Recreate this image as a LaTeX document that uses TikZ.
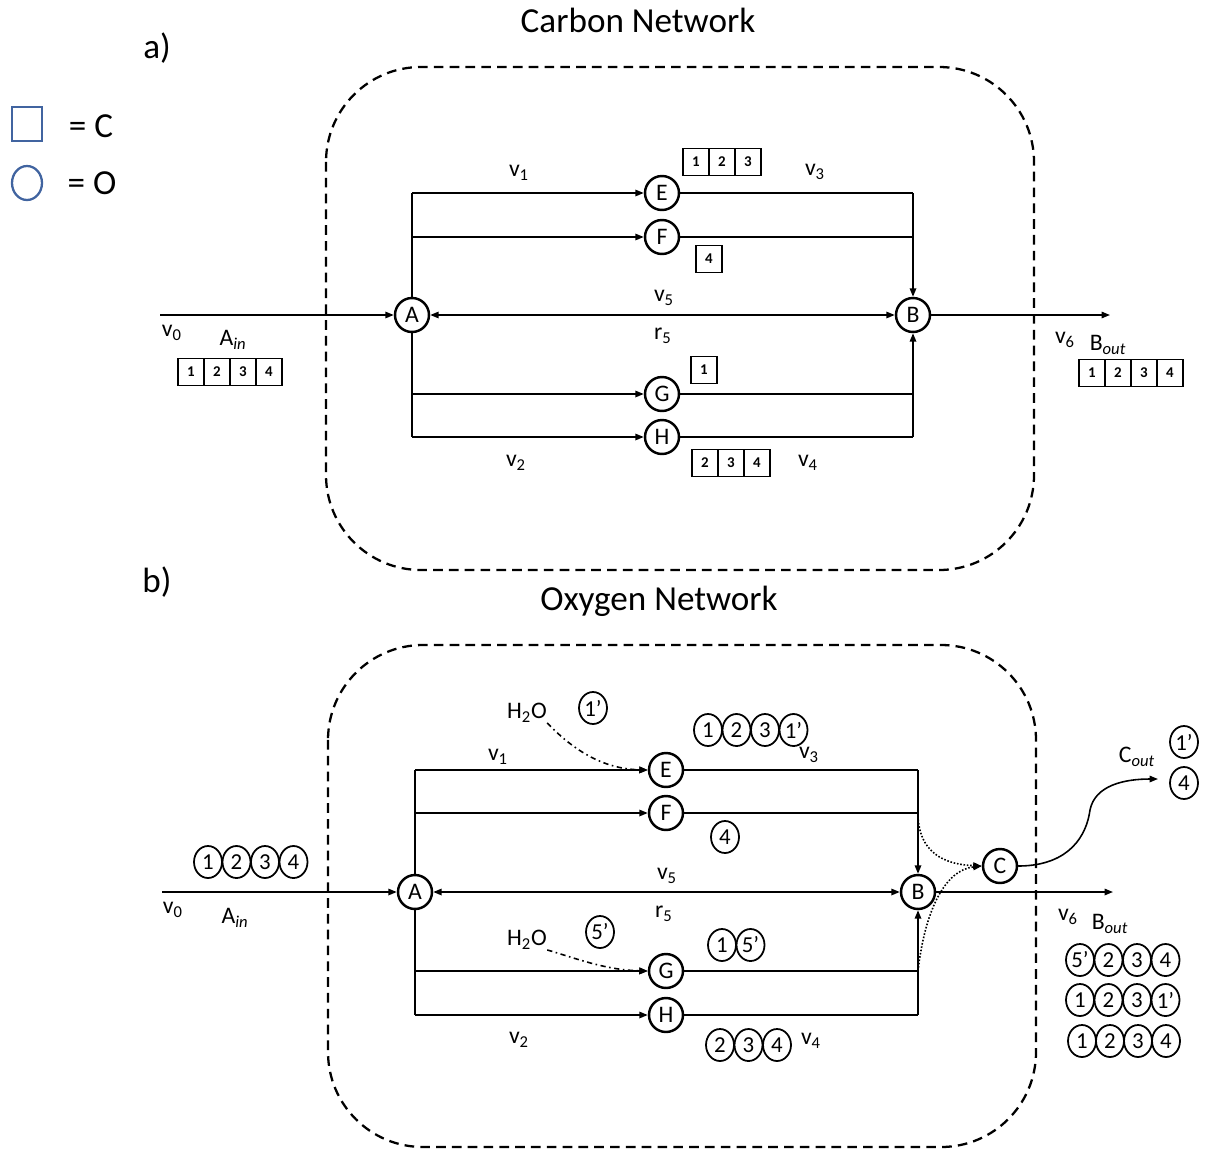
\documentclass[tikz,border=0pt]{standalone}
\usepackage{fontspec}
\setmainfont{Carlito}
\usetikzlibrary{positioning,shapes.geometric,arrows.meta}
\definecolor{legblue}{RGB}{65,100,160}

\begin{document}
\begin{tikzpicture}[x=0.02cm,y=-0.02cm,
  >={Triangle[length=1.7mm,width=1.3mm]},
  met/.style={draw,circle,line width=1.4pt,minimum size=0.68cm,inner sep=0pt,font=\fontsize{13.5}{15}\selectfont},
  cbox/.style={draw,line width=1pt,minimum width=0.52cm,minimum height=0.54cm,inner sep=0pt,font=\fontsize{8.5}{9}\selectfont\bfseries},
  oatom/.style={draw,ellipse,line width=1pt,minimum width=0.56cm,minimum height=0.64cm,inner sep=0pt,font=\fontsize{13}{15}\selectfont},
  flux/.style={line width=0.9pt},
  lbl/.style={inner sep=0pt,font=\fontsize{13.5}{15}\selectfont},
  title/.style={inner sep=0pt,font=\fontsize{20}{24}\selectfont},
  border/.style={line width=1.3pt,dash pattern=on 5.5pt off 3.5pt,rounded corners=1.9cm}]
\useasboundingbox (0,0) rectangle (1207,1150);

% Legend
\node[draw=legblue,line width=1.3pt,minimum width=0.6cm,minimum height=0.68cm] (keyC) at (27,124) {};
\node[title] (keyCtext) at (91,126) {= C};
\node[draw=legblue,ellipse,line width=1.3pt,minimum width=0.6cm,minimum height=0.68cm] (keyO) at (27,183) {};
\node[title] (keyOtext) at (92,183) {= O};

% a) Carbon network
\node[title] (titleA) at (638,20) {Carbon Network};
\node[title] (partA) at (157,48) {a)};
\draw[border] (326,67) rectangle (1034,570);

\node[met] (A1) at (412,315) {A};
\node[met] (B1) at (913,315) {B};
\node[met] (E1) at (662,193) {E};
\node[met] (F1) at (662,237) {F};
\node[met] (G1) at (662,394) {G};
\node[met] (H1) at (662,437) {H};

\coordinate (in1) at (160,315);
\coordinate (out1) at (1110,315);
\coordinate (aE1) at (412,193);
\coordinate (aF1) at (412,237);
\coordinate (aG1) at (412,394);
\coordinate (aH1) at (412,437);
\coordinate (bE1) at (913,193);
\coordinate (bF1) at (913,237);
\coordinate (bG1) at (913,394);
\coordinate (bH1) at (913,437);

\draw[flux,->] (in1) -- (A1);
\draw[flux,->] (B1) -- (out1);
\draw[flux,<->] (A1) -- (B1);
\draw[flux] (A1) -- (aE1);
\draw[flux] (A1) -- (aH1);
\draw[flux,->] (aE1) -- (E1);
\draw[flux,->] (aF1) -- (F1);
\draw[flux,->] (aG1) -- (G1);
\draw[flux,->] (aH1) -- (H1);
\draw[flux] (E1) -- (bE1);
\draw[flux] (F1) -- (bF1);
\draw[flux] (G1) -- (bG1);
\draw[flux] (H1) -- (bH1);
\draw[flux,->] (bE1) -- (B1);
\draw[flux,->] (bH1) -- (B1);

\node[lbl] (v1a) at (519,173) {v\textsubscript{1}};
\node[lbl] (v3a) at (815,172) {v\textsubscript{3}};
\node[lbl] (v5a) at (664,298) {v\textsubscript{5}};
\node[lbl] (r5a) at (663,336) {r\textsubscript{5}};
\node[lbl] (v2a) at (516,463) {v\textsubscript{2}};
\node[lbl] (v4a) at (808,463) {v\textsubscript{4}};
\node[lbl] (v0a) at (172,333) {v\textsubscript{0}};
\node[lbl] (Aina) at (233,340) {A\textsubscript{\textit{in}}};
\node[lbl] (v6a) at (1065,340) {v\textsubscript{6}};
\node[lbl] (Bouta) at (1108,345) {B\textsubscript{\textit{out}}};

\foreach \n [count=\i] in {1,2,3}
  \node[cbox] (cE\i) at ({696+26*(\i-1)},162) {\n};
\node[cbox] (cF) at (709,259) {4};
\node[cbox] (cG) at (704,370) {1};
\foreach \n [count=\i] in {2,3,4}
  \node[cbox] (cH\i) at ({705+26*(\i-1)},463) {\n};
\foreach \n [count=\i] in {1,2,3,4}
  \node[cbox] (cA\i) at ({191+26*(\i-1)},372) {\n};
\foreach \n [count=\i] in {1,2,3,4}
  \node[cbox] (cB\i) at ({1092+26*(\i-1)},373) {\n};

% b) Oxygen network
\node[title] (titleB) at (659,601) {Oxygen Network};
\node[title] (partB) at (157,582) {b)};
\draw[border] (328,645) rectangle (1036,1147);

\node[met] (A2) at (415,892) {A};
\node[met] (B2) at (918,892) {B};
\node[met] (E2) at (666,770) {E};
\node[met] (F2) at (666,813) {F};
\node[met] (G2) at (666,971) {G};
\node[met] (H2) at (666,1015) {H};
\node[met] (C2) at (1000,866) {C};

\coordinate (in2) at (162,892);
\coordinate (out2) at (1113,892);
\coordinate (aE2) at (415,770);
\coordinate (aF2) at (415,813);
\coordinate (aG2) at (415,971);
\coordinate (aH2) at (415,1015);
\coordinate (bE2) at (918,770);
\coordinate (bF2) at (918,813);
\coordinate (bG2) at (918,971);
\coordinate (bH2) at (918,1015);
\coordinate (cout) at (1158,779);

\draw[flux,->] (in2) -- (A2);
\draw[flux,->] (B2) -- (out2);
\draw[flux,<->] (A2) -- (B2);
\draw[flux] (A2) -- (aE2);
\draw[flux] (A2) -- (aH2);
\draw[flux,->] (aE2) -- (E2);
\draw[flux,->] (aF2) -- (F2);
\draw[flux,->] (aG2) -- (G2);
\draw[flux,->] (aH2) -- (H2);
\draw[flux] (E2) -- (bE2);
\draw[flux] (F2) -- (bF2);
\draw[flux] (G2) -- (bG2);
\draw[flux] (H2) -- (bH2);
\draw[flux,->] (bE2) -- (B2);
\draw[flux,->] (bH2) -- (B2);
\draw[flux,densely dotted,->] (bF2) .. controls (918,845) and (935,864) .. (C2.west);
\draw[flux,densely dotted,->] (bG2) .. controls (925,910) and (945,870) .. (C2.west);
\draw[flux,->] (C2.east) .. controls (1060,866) and (1085,845) .. (1090,810)
  .. controls (1095,785) and (1125,779) .. (cout);

\node[lbl] (h2oE) at (527,713) {H\textsubscript{2}O};
\node[lbl] (h2oG) at (527,940) {H\textsubscript{2}O};
\draw[flux,dash dot,->] (h2oE.south east) .. controls (575,752) and (605,769) .. (E2.west);
\draw[flux,dash dot,->] (h2oG.south east) .. controls (575,958) and (605,970) .. (G2.west);

\node[lbl] (v1b) at (498,757) {v\textsubscript{1}};
\node[lbl] (v3b) at (809,755) {v\textsubscript{3}};
\node[lbl] (v5b) at (667,876) {v\textsubscript{5}};
\node[lbl] (r5b) at (664,914) {r\textsubscript{5}};
\node[lbl] (v2b) at (519,1040) {v\textsubscript{2}};
\node[lbl] (v4b) at (811,1041) {v\textsubscript{4}};
\node[lbl] (v0b) at (173,910) {v\textsubscript{0}};
\node[lbl] (Ainb) at (235,918) {A\textsubscript{\textit{in}}};
\node[lbl] (v6b) at (1068,917) {v\textsubscript{6}};
\node[lbl] (Boutb) at (1110,924) {B\textsubscript{\textit{out}}};
\node[lbl] (Coutb) at (1137,757) {C\textsubscript{\textit{out}}};

\node[oatom] (oW1) at (593,708) {1’};
\foreach \n [count=\i] in {1,2,3,1’}
  \node[oatom] (oE\i) at ({708+28.5*(\i-1)},730) {\n};
\node[oatom] (oF) at (725,837) {4};
\node[oatom] (oW5) at (600,932) {5’};
\foreach \n [count=\i] in {1,5’}
  \node[oatom] (oG\i) at ({722+28.5*(\i-1)},945) {\n};
\foreach \n [count=\i] in {2,3,4}
  \node[oatom] (oH\i) at ({720+28.5*(\i-1)},1045) {\n};
\foreach \n [count=\i] in {1,2,3,4}
  \node[oatom] (oA\i) at ({208+28.5*(\i-1)},862) {\n};
\foreach \n [count=\i] in {5’,2,3,4}
  \node[oatom] (oBa\i) at ({1080+28.5*(\i-1)},960) {\n};
\foreach \n [count=\i] in {1,2,3,1’}
  \node[oatom] (oBb\i) at ({1080+28.5*(\i-1)},1000) {\n};
\foreach \n [count=\i] in {1,2,3,4}
  \node[oatom] (oBc\i) at ({1082+28*(\i-1)},1041) {\n};
\node[oatom] (oC1) at (1184,742) {1’};
\node[oatom] (oC2) at (1184,783) {4};
\end{tikzpicture}
\end{document}
